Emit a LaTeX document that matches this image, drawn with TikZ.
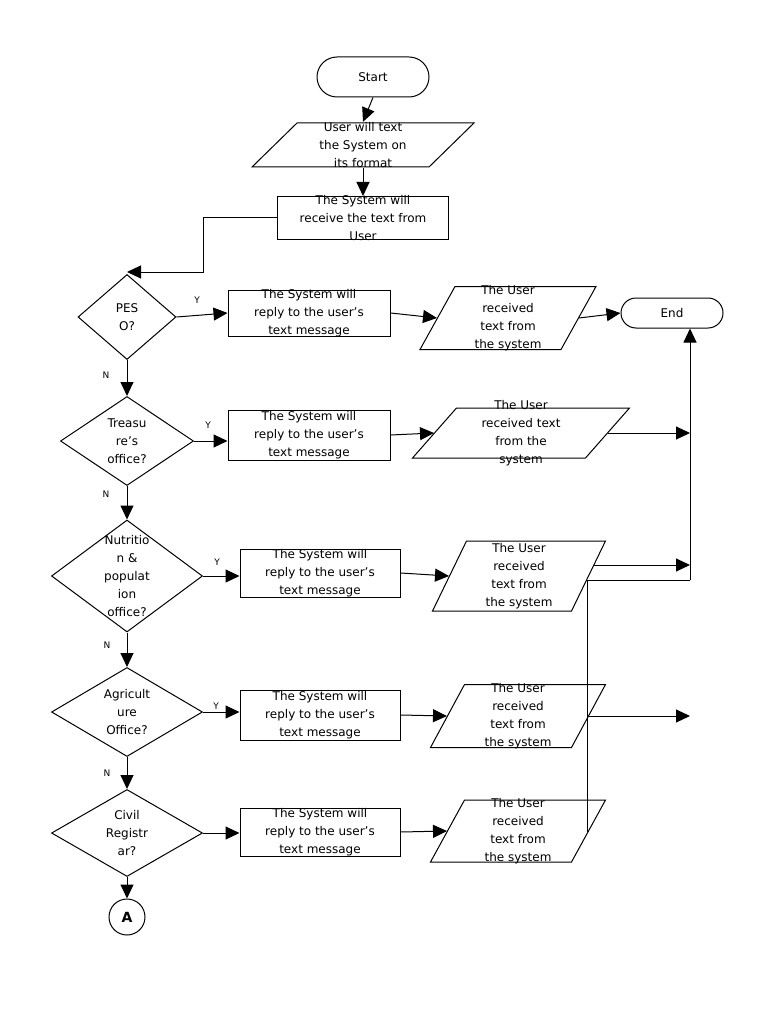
\documentclass[tikz,border=0pt]{standalone}
\usepackage{fontspec}
\setmainfont{DejaVu Sans}
\usetikzlibrary{shapes.geometric,arrows.meta}
% #1 name, #2 cx, #3 cy, #4 edge width, #5 height, #6 horizontal skew, #7 text
\newcommand\myparal[7]{%
  \node[txt,minimum width=#4pt,minimum height=#5pt] (#1) at (#2,#3) {#7};
  \draw (#2-#4/2-#6/2,#3+#5/2) -- (#2-#4/2+#6/2,#3-#5/2) -- (#2+#4/2+#6/2,#3-#5/2) -- (#2+#4/2-#6/2,#3+#5/2) -- cycle;}
\begin{document}
\begin{tikzpicture}[x=1pt,y=-1pt,
  line width=1pt,
  every node/.style={font=\fontsize{12}{18}\selectfont},
  arr/.style={-{Triangle[length=14pt,width=13pt]}},
  box/.style={draw,rectangle,inner sep=0pt},
  dia/.style={draw,diamond,aspect=1.1,inner sep=0pt},
  txt/.style={align=center,inner sep=0pt},
  lab/.style={font=\fontsize{9}{10}\selectfont}]
\useasboundingbox (0,0) rectangle (768,1024);
% top
\node[draw,rounded corners=20pt,minimum width=112pt,minimum height=40pt] (start) at (373,77) {Start};
\myparal{in1}{363}{145}{177}{44}{45}{User will text\\the System on\\its format}
\node[box,minimum width=171pt,minimum height=43pt] (b0) at (363,218) {};
\node[txt] at (363,218) {The System will\\receive the text from\\User};
% decisions
\node[dia,minimum width=98pt,minimum height=85pt] (d1) at (127,317) {};
\node[txt] at (127,317) {PES\\O?};
\node[dia,minimum width=133pt,minimum height=89pt] (d2) at (127,441) {};
\node[txt] at (127,441) {Treasu\\re's\\office?};
\node[dia,minimum width=151pt,minimum height=112pt] (d3) at (127,576) {};
\node[txt] at (127,576) {Nutritio\\n \&\\populat\\ion\\office?};
\node[dia,minimum width=151pt,minimum height=89pt] (d4) at (127,712) {};
\node[txt] at (127,712) {Agricult\\ure\\Office?};
\node[dia,minimum width=151pt,minimum height=87pt] (d5) at (127,833) {};
\node[txt] at (127,833) {Civil\\Registr\\ar?};
\node[draw,circle,minimum size=36pt,inner sep=0pt,font=\fontsize{14}{14}\selectfont\bfseries] (A) at (127,917) {A};
% reply boxes
\node[box,minimum width=162pt,minimum height=46pt] (r1) at (309,313) {};
\node[box,minimum width=162pt,minimum height=50pt] (r2) at (309,435) {};
\node[box,minimum width=160pt,minimum height=48pt] (r3) at (320,573) {};
\node[box,minimum width=160pt,minimum height=50pt] (r4) at (320,715) {};
\node[box,minimum width=160pt,minimum height=48pt] (r5) at (320,832) {};
\foreach \r in {r1,r2,r3,r4,r5}{\node[txt] at (\r) {The System will\\reply to the user's\\text message};}
% output parallelograms
\myparal{p1}{508}{318}{141}{63}{35}{The User\\received\\text from\\the system}
\myparal{p2}{521}{433}{173}{50}{44}{The User\\received text\\from the\\system}
\myparal{p3}{519}{576}{139}{70}{34}{The User\\received\\text from\\the system}
\myparal{p4}{518}{716}{141}{63}{34}{The User\\received\\text from\\the system}
\myparal{p5}{518}{831}{141}{62}{34}{The User\\received\\text from\\the system}
\node[draw,rounded corners=15pt,minimum width=102pt,minimum height=30pt] (end) at (672,313) {End};
% coordinates
\coordinate (k1) at (203,272);
\coordinate (k3) at (690,580);
\coordinate (k4) at (587,580);
\coordinate (k5) at (587,832);
\coordinate (k6) at (594,565);
% connectors
\draw[arr] (start.south) -- (in1.north);
\draw[arr] (in1.south) -- (b0.north);
\draw[arr] (b0.west) -| (k1) -- (d1.north |- k1);
\draw[arr] (d1) -- (d2);
\draw[arr] (d2) -- (d3);
\draw[arr] (d3) -- (d4);
\draw[arr] (d4) -- (d5);
\draw[arr] (d5) -- (A);
\draw[arr] (d1.east) -- (r1.west);
\draw[arr] (d2.east) -- (d2.east -| r2.west);
\draw[arr] (d3.east) -- (d3.east -| r3.west);
\draw[arr] (d4.east) -- (d4.east -| r4.west);
\draw[arr] (d5.east) -- (d5.east -| r5.west);
\draw[arr] (r1.east) -- (p1.west);
\draw[arr] (r2.east) -- (p2.west);
\draw[arr] (r3.east) -- (p3.west);
\draw[arr] (r4.east) -- (p4.west);
\draw[arr] (r5.east) -- (p5.west);
\draw[arr] (p1.east) -- (end.west);
\draw[arr] (p2.east) -- (p2.east -| k3);
\draw[arr] (k6) -- (k6 -| k3);
\draw[arr] (p4.east) -- (p4.east -| k3);
\draw[arr] (k3) -- (k3 |- end.south);
\draw (k4) -- (k3);
\draw (k4) -- (k5);
% labels
\node[lab] at (197,300) {Y};
\node[lab] at (208,425) {Y};
\node[lab] at (217,562) {Y};
\node[lab] at (216,706) {Y};
\node[lab] at (106,375) {N};
\node[lab] at (106,494) {N};
\node[lab] at (107,645) {N};
\node[lab] at (107,773) {N};
\end{tikzpicture}
\end{document}
